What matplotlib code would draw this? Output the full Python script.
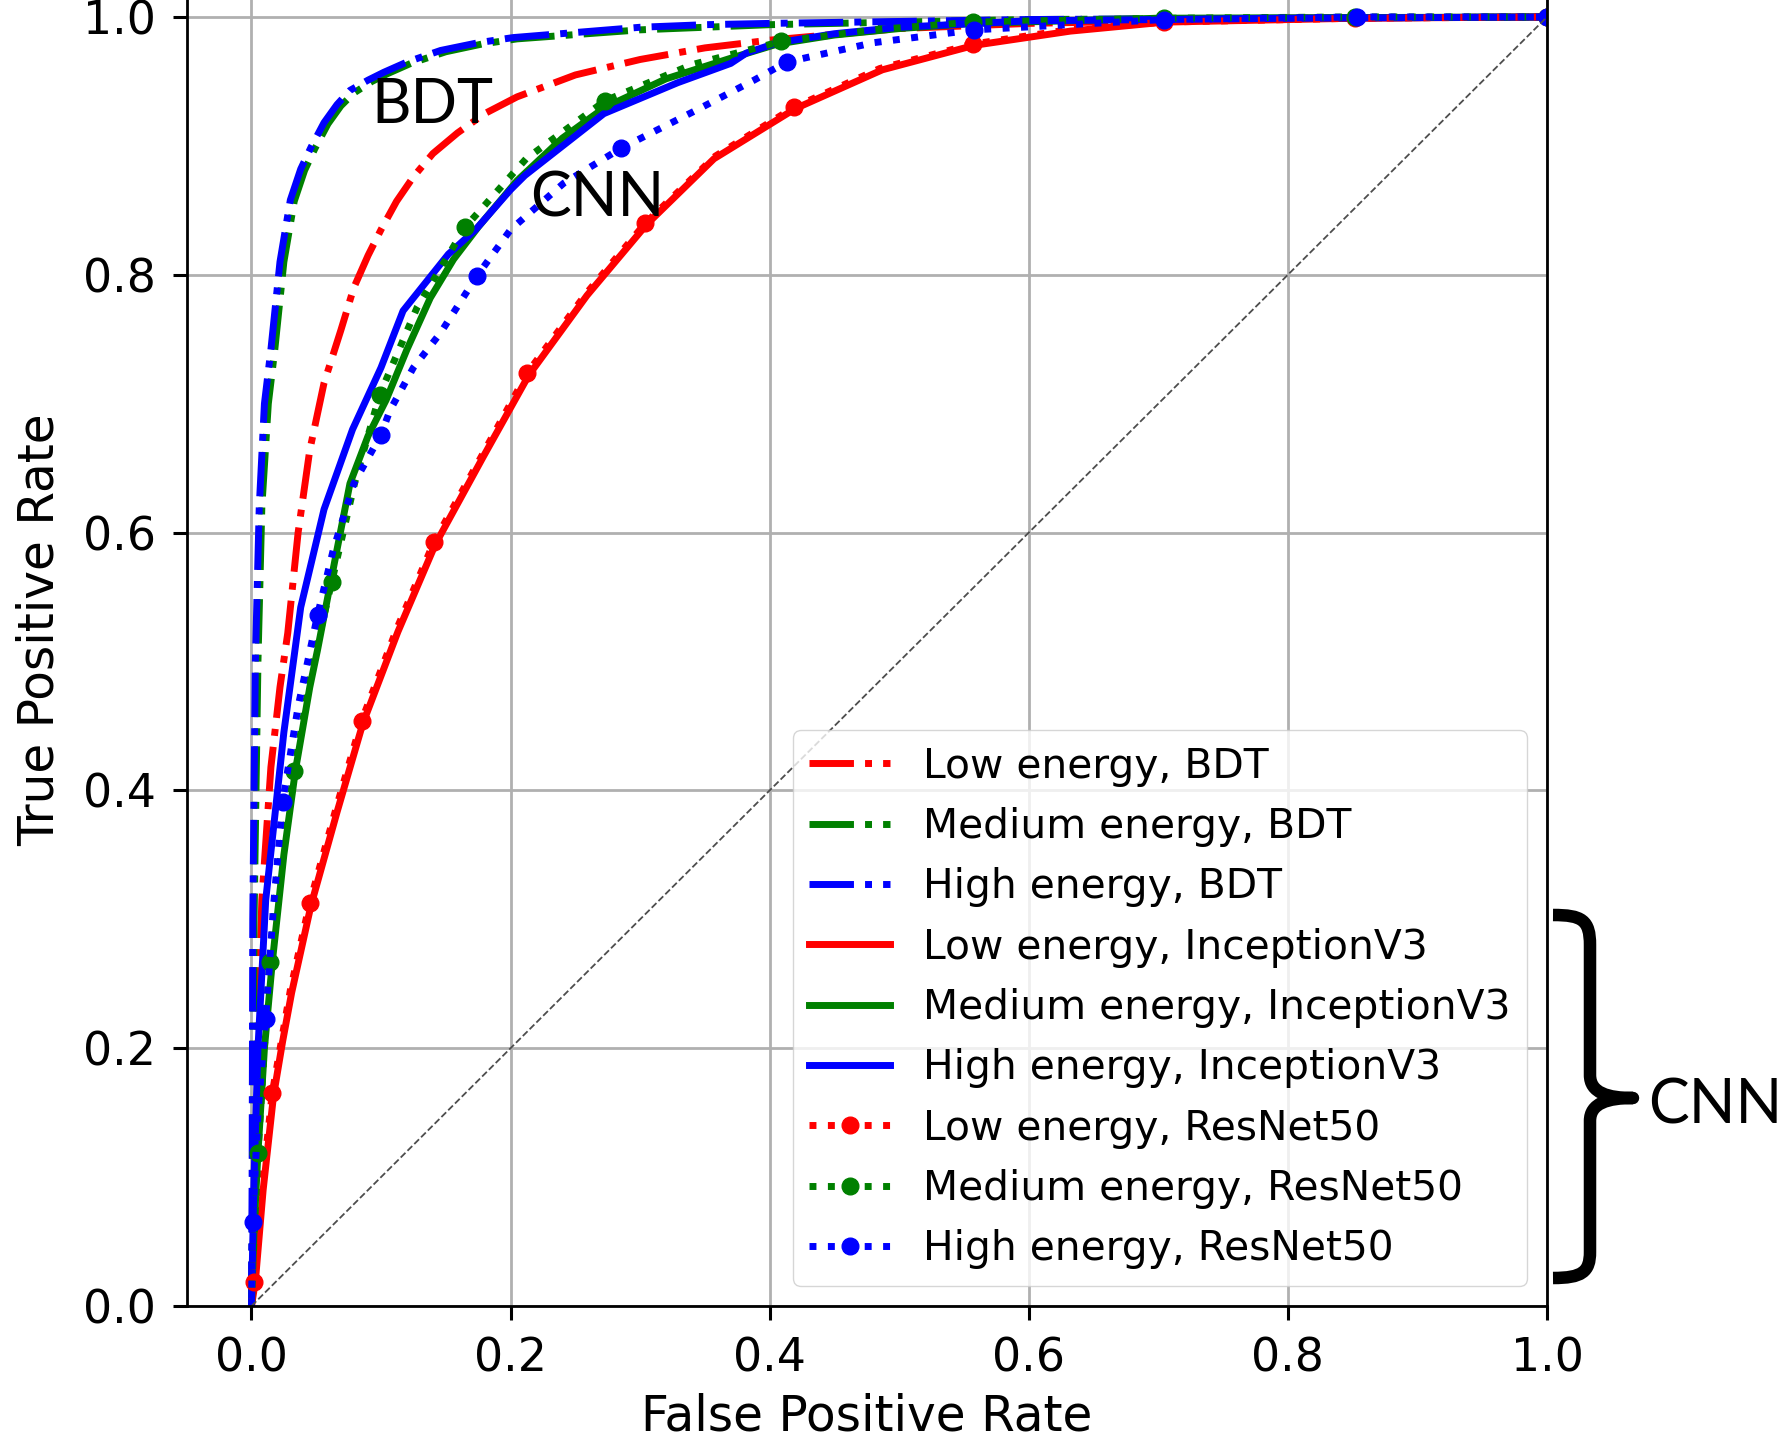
import matplotlib
matplotlib.use("Agg")
import matplotlib.pyplot as plt
from matplotlib.path import Path
from matplotlib.patches import PathPatch

# ROC curves
bdt_low_fpr = [0.0, 0.003, 0.008, 0.015, 0.022, 0.028, 0.036, 0.045, 0.056, 0.069, 0.079, 0.090, 0.100, 0.112, 0.125, 0.140, 0.159, 0.180, 0.205, 0.250, 0.300, 0.350, 0.400, 0.500, 0.600, 0.800, 1.0]
bdt_low_tpr = [0.0, 0.150, 0.315, 0.418, 0.480, 0.522, 0.600, 0.664, 0.716, 0.757, 0.790, 0.815, 0.835, 0.857, 0.876, 0.894, 0.910, 0.925, 0.938, 0.955, 0.967, 0.976, 0.982, 0.991, 0.995, 0.999, 1.0]

bdt_med_fpr = [0.0, 0.001, 0.002, 0.005, 0.008, 0.013, 0.018, 0.025, 0.033, 0.041, 0.049, 0.059, 0.069, 0.079, 0.093, 0.105, 0.123, 0.150, 0.178, 0.205, 0.300, 0.400, 0.600, 1.0]
bdt_med_tpr = [0.0, 0.100, 0.300, 0.500, 0.620, 0.700, 0.742, 0.810, 0.857, 0.881, 0.898, 0.917, 0.931, 0.941, 0.950, 0.956, 0.964, 0.973, 0.979, 0.983, 0.990, 0.994, 0.998, 1.0]

bdt_high_fpr = [0.0, 0.0005, 0.001, 0.003, 0.006, 0.010, 0.015, 0.022, 0.030, 0.038, 0.046, 0.056, 0.066, 0.076, 0.090, 0.102, 0.120, 0.146, 0.175, 0.202, 0.300, 0.350, 0.400, 0.600, 1.0]
bdt_high_tpr = [0.0, 0.100, 0.300, 0.500, 0.620, 0.700, 0.742, 0.810, 0.858, 0.882, 0.899, 0.918, 0.932, 0.943, 0.951, 0.957, 0.965, 0.974, 0.980, 0.984, 0.992, 0.994, 0.995, 0.998, 1.0]

inc_low_fpr = [0.0, 0.003, 0.009, 0.017, 0.024, 0.031, 0.046, 0.066, 0.086, 0.113, 0.142, 0.179, 0.214, 0.259, 0.305, 0.357, 0.420, 0.487, 0.558, 0.632, 0.705, 0.850, 1.0]
inc_low_tpr = [0.0, 0.019, 0.090, 0.163, 0.205, 0.243, 0.311, 0.383, 0.452, 0.523, 0.591, 0.659, 0.722, 0.784, 0.839, 0.890, 0.929, 0.959, 0.978, 0.989, 0.996, 0.999, 1.0]

inc_med_fpr = [0.0, 0.002, 0.005, 0.010, 0.016, 0.025, 0.034, 0.045, 0.051, 0.061, 0.076, 0.090, 0.104, 0.120, 0.138, 0.156, 0.175, 0.205, 0.240, 0.273, 0.320, 0.370, 0.406, 0.450, 0.500, 0.557, 0.700, 1.0]
inc_med_tpr = [0.0, 0.060, 0.119, 0.200, 0.266, 0.350, 0.416, 0.480, 0.509, 0.561, 0.638, 0.675, 0.703, 0.742, 0.782, 0.812, 0.837, 0.873, 0.906, 0.930, 0.952, 0.968, 0.979, 0.986, 0.991, 0.995, 0.999, 1.0]

inc_high_fpr = [0.0, 0.002, 0.005, 0.011, 0.025, 0.038, 0.056, 0.078, 0.100, 0.117, 0.152, 0.173, 0.200, 0.211, 0.272, 0.329, 0.370, 0.382, 0.406, 0.450, 0.500, 0.600, 0.800, 1.0]
inc_high_tpr = [0.0, 0.100, 0.200, 0.315, 0.445, 0.542, 0.618, 0.680, 0.728, 0.772, 0.816, 0.835, 0.866, 0.877, 0.925, 0.949, 0.964, 0.972, 0.980, 0.987, 0.992, 0.997, 0.999, 1.0]

res_low_fpr = [0.0, 0.002, 0.008, 0.016, 0.030, 0.045, 0.065, 0.085, 0.112, 0.141, 0.178, 0.213, 0.258, 0.304, 0.358, 0.419, 0.485, 0.557, 0.630, 0.704, 0.852, 1.0]
res_low_tpr = [0.0, 0.019, 0.090, 0.165, 0.245, 0.313, 0.385, 0.454, 0.525, 0.593, 0.660, 0.724, 0.785, 0.840, 0.892, 0.930, 0.960, 0.979, 0.990, 0.996, 0.999, 1.0]
res_low_marks = [1, 3, 5, 7, 9, 11, 13, 15, 17, 19, 20, 21]

res_med_fpr = [0.0, 0.001, 0.005, 0.014, 0.022, 0.033, 0.046, 0.062, 0.080, 0.099, 0.128, 0.165, 0.212, 0.273, 0.340, 0.409, 0.480, 0.557, 0.704, 0.852, 1.0]
res_med_tpr = [0.0, 0.030, 0.119, 0.267, 0.345, 0.415, 0.492, 0.562, 0.640, 0.707, 0.775, 0.837, 0.890, 0.935, 0.963, 0.981, 0.990, 0.996, 0.999, 1.0, 1.0]
res_med_marks = [2, 3, 5, 7, 9, 11, 13, 15, 17, 18, 19, 20]

res_high_fpr = [0.0, 0.001, 0.005, 0.011, 0.017, 0.024, 0.036, 0.051, 0.063, 0.079, 0.100, 0.107, 0.125, 0.146, 0.174, 0.200, 0.241, 0.285, 0.344, 0.388, 0.413, 0.480, 0.558, 0.704, 0.853, 1.0]
res_high_tpr = [0.0, 0.065, 0.150, 0.223, 0.310, 0.391, 0.465, 0.536, 0.586, 0.638, 0.676, 0.695, 0.728, 0.755, 0.799, 0.835, 0.871, 0.898, 0.928, 0.951, 0.965, 0.980, 0.990, 0.998, 1.0, 1.0]
res_high_marks = [1, 3, 5, 7, 10, 14, 17, 20, 22, 23, 24, 25]

energies = ["Low", "Medium", "High"]
colors = ["red", "green", "blue"]
ticks = [0.0, 0.2, 0.4, 0.6, 0.8, 1.0]

W, H = 1785, 1440
fig = plt.figure(figsize=(W / 100, H / 100), dpi=100)
# the picture is cut at y = 1.0, so the axes run past the top of the figure
ax = fig.add_axes([186.7 / W, 134 / H, 1360.3 / W, 1353.5 / H])

lw = 5
bdt = [(bdt_low_fpr, bdt_low_tpr), (bdt_med_fpr, bdt_med_tpr), (bdt_high_fpr, bdt_high_tpr)]
inc = [(inc_low_fpr, inc_low_tpr), (inc_med_fpr, inc_med_tpr), (inc_high_fpr, inc_high_tpr)]
res = [(res_low_fpr, res_low_tpr, res_low_marks), (res_med_fpr, res_med_tpr, res_med_marks),
       (res_high_fpr, res_high_tpr, res_high_marks)]

for (x, y), e, c in zip(bdt, energies, colors):
    ax.plot(x, y, "-.", color=c, lw=lw, label=e + " energy, BDT")
for (x, y), e, c in zip(inc, energies, colors):
    ax.plot(x, y, "-", color=c, lw=lw, label=e + " energy, InceptionV3")
for (x, y, m), e, c in zip(res, energies, colors):
    ax.plot(x, y, ":", color=c, lw=lw, marker="o", markersize=12, markevery=m,
            label=e + " energy, ResNet50")

ax.plot([0, 1], [0, 1], "--", color="0.3", lw=1.3)

ax.set_xlim(-0.05, 1.0)
ax.set_ylim(0.0, 1.05)
ax.set_xticks(ticks)
ax.set_yticks(ticks)
ax.grid(True, color="#b0b0b0", lw=2)
ax.set_axisbelow(True)
for s in ax.spines.values():
    s.set_linewidth(2)
ax.tick_params(labelsize=33, length=10, width=2.2, pad=12)
ax.set_xlabel("False Positive Rate", fontsize=35, labelpad=8)
ax.set_ylabel("True Positive Rate", fontsize=35, labelpad=14)

ax.legend(loc="lower right", fontsize=29.3, labelspacing=0.5, handlelength=2.0)

# labels added on top of the plot
ann = dict(family=["Lato", "DejaVu Sans"], fontsize=44, color="black")
ax.text(0.140, 0.918, "BDT", ha="center", va="baseline", **ann)
ax.text(0.267, 0.845, "CNN", ha="center", va="baseline", **ann)
fig.text(1648 / W, 1 - 1123 / H, "CNN", ha="left", va="baseline", **ann)

# curly brace next to the CNN entries of the legend
def px(x, y):
    return (x / W, 1 - y / H)

verts = [px(1553, 915), px(1582, 915), px(1590, 920), px(1590, 945),
         px(1590, 1075),
         px(1590, 1093), px(1608, 1098), px(1633, 1098),
         px(1608, 1098), px(1590, 1103), px(1590, 1121),
         px(1590, 1252),
         px(1590, 1272), px(1582, 1278), px(1553, 1278)]
codes = [Path.MOVETO, Path.CURVE4, Path.CURVE4, Path.CURVE4,
         Path.LINETO,
         Path.CURVE4, Path.CURVE4, Path.CURVE4,
         Path.CURVE4, Path.CURVE4, Path.CURVE4,
         Path.LINETO,
         Path.CURVE4, Path.CURVE4, Path.CURVE4]
brace = PathPatch(Path(verts, codes), transform=fig.transFigure, fill=False,
                  lw=9, edgecolor="black", capstyle="butt", joinstyle="round")
fig.patches.append(brace)

fig.savefig("out.png", dpi=100)
